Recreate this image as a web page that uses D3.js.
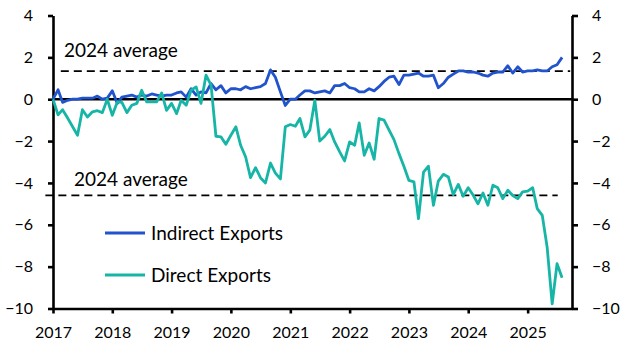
<!DOCTYPE html>
<html>
<head>
<meta charset="utf-8">
<script src="https://cdn.jsdelivr.net/npm/d3@7"></script>
<style>
  html, body { margin: 0; padding: 0; background: #fff; }
  svg { display: block; font-family: Lato, "Open Sans", sans-serif; }
</style>
</head>
<body>
<div id="chart"></div>
<script>
// monthly, Jan 2017 – Aug 2025
const MONTHS = d3.timeMonth.range(new Date(2017, 0, 1), new Date(2025, 8, 1));

const INDIRECT = [
  0.0, 0.45, -0.15, -0.05, 0.0, 0.0, 0.05, 0.05, 0.05, 0.15, 0.0, 0.05,
  0.4, -0.2, 0.1, 0.15, 0.2, 0.1, 0.2, 0.15, 0.25, 0.2, 0.15, 0.2,
  0.2, 0.3, 0.35, 0.1, 0.5, 0.2, 0.35, 0.3, 0.75, 0.45, 0.65, 0.3,
  0.5, 0.5, 0.45, 0.6, 0.5, 0.55, 0.6, 0.75, 1.4, 1.05, 0.35, -0.3,
  0.0, 0.0, 0.2, 0.4, 0.4, 0.3, 0.35, 0.4, 0.3, 0.65, 0.65, 0.75,
  0.55, 0.5, 0.35, 0.35, 0.5, 0.4, 0.6, 0.85, 1.05, 1.1, 0.7, 1.15,
  1.15, 1.2, 1.25, 1.1, 1.1, 1.15, 0.55, 0.75, 1.05, 1.2, 1.35, 1.35,
  1.3, 1.3, 1.25, 1.15, 1.1, 1.25, 1.3, 1.3, 1.6, 1.25, 1.55, 1.3,
  1.35, 1.35, 1.4, 1.35, 1.35, 1.55, 1.65, 2.0
];

const DIRECT = [
  0.0, -0.75, -0.5, -0.9, -1.3, -1.72, -0.5, -0.85, -0.6, -0.55, -0.64, 0.0,
  -0.77, -0.13, -0.15, -0.64, -0.29, -0.2, 0.43, -0.13, -0.13, -0.13, 0.3, -0.53,
  -0.2, -0.69, -0.05, -0.29, 0.43, 0.59, -0.2, 1.15, 0.67, -1.77, -1.8, -2.15,
  -1.72, -1.32, -2.2, -2.76, -3.75, -3.27, -3.75, -4.0, -3.05, -3.53, -3.81, -1.32,
  -1.21, -1.29, -0.92, -1.8, -1.48, -0.05, -2.0, -1.77, -1.45, -2.04, -2.52, -2.95,
  -2.04, -2.2, -1.13, -2.68, -2.09, -2.87, -0.92, -1.0, -1.48, -1.93, -2.6, -3.2,
  -3.88, -3.95, -5.71, -3.48, -3.2, -5.07, -3.91, -3.59, -3.72, -4.56, -4.07, -4.64,
  -4.23, -4.59, -5.0, -4.48, -5.07, -4.11, -4.23, -4.75, -4.35, -4.6, -4.75, -4.43,
  -4.39, -4.23, -5.23, -5.55, -7.07, -9.78, -7.86, -8.53
];

const SERIES_NAMES = ["Indirect Exports", "Direct Exports"];
const AVG_2024 = [1.34, -4.59];
const AVG_LABEL = "2024 average";
const Y_TICKS = [-10, -8, -6, -4, -2, 0, 2, 4];
const X_TICK_YEARS = [2017, 2018, 2019, 2020, 2021, 2022, 2023, 2024, 2025];

const width = 626, height = 352;
const plot = { left: 53, right: 572, top: 15.5, bottom: 308.5 };
const colors = ["#2153cc", "#16b5a6"];

const x = d3.scaleTime()
  .domain([new Date(2017, 0, 1), new Date(2025, 9, 1)])
  .range([plot.left, plot.right]);
const y = d3.scaleLinear().domain([-10, 4]).range([plot.bottom, plot.top]);

const svg = d3.select("#chart").append("svg")
  .attr("width", width).attr("height", height);

// axes
const axisStyle = g => {
  g.attr("font-family", null);
  g.select(".domain").attr("stroke", "#000").attr("stroke-width", 2.6);
  g.selectAll(".tick line").attr("stroke", "#000").attr("stroke-width", 2.6);
  g.selectAll(".tick text").attr("fill", "#000").attr("font-size", "16px");
};

svg.append("g")
  .attr("transform", `translate(${plot.left},0)`)
  .call(d3.axisLeft(y).tickValues(Y_TICKS).tickSize(5).tickPadding(15).tickSizeOuter(0))
  .call(axisStyle);

svg.append("g")
  .attr("transform", `translate(${plot.right},0)`)
  .call(d3.axisRight(y).tickValues(Y_TICKS).tickSize(6).tickPadding(14).tickSizeOuter(0))
  .call(axisStyle);

svg.append("g")
  .attr("transform", `translate(0,${plot.bottom})`)
  .call(d3.axisBottom(x)
    .tickValues(X_TICK_YEARS.map(yr => new Date(yr, 0, 1)))
    .tickFormat(d3.timeFormat("%Y"))
    .tickSize(5).tickPadding(13).tickSizeOuter(0))
  .call(axisStyle);

// zero line
svg.append("line")
  .attr("x1", plot.left).attr("x2", plot.right)
  .attr("y1", y(0)).attr("y2", y(0))
  .attr("stroke", "#000").attr("stroke-width", 2.6);

// 2024 average lines
const avgSpans = [
  [new Date(2017, 1, 18), new Date(2025, 8, 20)],
  [new Date(2016, 10, 15), new Date(2025, 6, 5)]
];
const avgLabelX = [new Date(2017, 2, 10), new Date(2017, 4, 10)];
const avgLabelGap = [14, 9];
AVG_2024.forEach((v, i) => {
  svg.append("line")
    .attr("x1", x(avgSpans[i][0])).attr("x2", x(avgSpans[i][1]))
    .attr("y1", y(v)).attr("y2", y(v))
    .attr("stroke", "#000").attr("stroke-width", 1.8)
    .attr("stroke-dasharray", "8,5");
  svg.append("text")
    .attr("x", x(avgLabelX[i])).attr("y", y(v) - avgLabelGap[i])
    .attr("font-size", "19px").attr("fill", "#000")
    .text(AVG_LABEL);
});

// series
const line = d3.line()
  .x((d, i) => x(MONTHS[i]))
  .y(d => y(d));

[INDIRECT, DIRECT].forEach((s, i) => {
  svg.append("path").datum(s)
    .attr("fill", "none")
    .attr("stroke", colors[i])
    .attr("stroke-width", 2.8)
    .attr("stroke-linejoin", "round")
    .attr("d", line);
});

// legend
SERIES_NAMES.forEach((name, i) => {
  const ly = 233 + i * 42;
  svg.append("line")
    .attr("x1", 105).attr("x2", 145)
    .attr("y1", ly).attr("y2", ly)
    .attr("stroke", colors[i]).attr("stroke-width", 2.8);
  svg.append("text")
    .attr("x", 151).attr("y", ly + 6.5)
    .attr("font-size", "19px").attr("fill", "#000")
    .text(name);
});
</script>
</body>
</html>
